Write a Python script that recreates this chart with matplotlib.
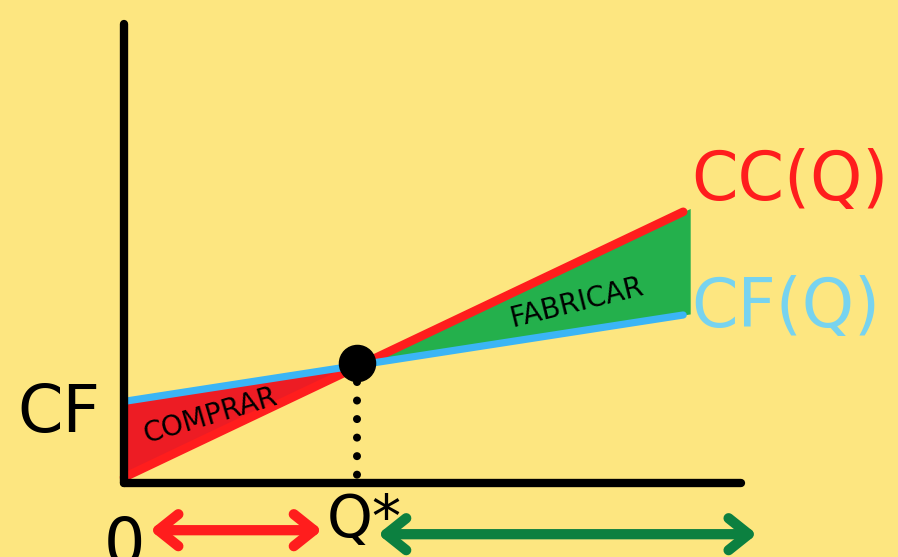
import numpy as np
import matplotlib.pyplot as plt
from matplotlib.patches import FancyArrowPatch, ArrowStyle

# cost lines (Q units, cost units)
q_ends = [0, 12]
cf_ends = [10.2, 21.0]   # CF(Q), fabricar
cc_ends = [0.7, 33.9]    # CC(Q), comprar
q_fill_end = 12.15
q_star = 5.0
cost_star = 15.0
dots_top, dots_bottom = 12.6, 0.9

# colours
bg = "#FDE680"
red_fill = "#ED1C24"
red_line = "#FF1D1D"
green_fill = "#24B04C"
green_arrow = "#0C8040"
blue_line = "#3BB5F5"
blue_text = "#77D3EF"

fig = plt.figure(figsize=(8.98, 5.57), dpi=100)
fig.patch.set_facecolor(bg)
ax = fig.add_axes([0, 0, 1, 1])
ax.set_facecolor(bg)
ax.set_xlim(-124 / 46.6, 774 / 46.6)
ax.set_ylim(-74 / 8, 483 / 8)
ax.axis("off")

cf_fit = np.polyfit(q_ends, cf_ends, 1)
cc_fit = np.polyfit(q_ends, cc_ends, 1)
q_cross = (cf_fit[1] - cc_fit[1]) / (cc_fit[0] - cf_fit[0])

# shaded areas
q_left = np.linspace(0, q_cross, 50)
ax.fill_between(q_left, np.polyval(cc_fit, q_left), np.polyval(cf_fit, q_left),
                color=red_fill, lw=0, zorder=1)
q_right = np.linspace(q_cross, q_fill_end, 50)
ax.fill_between(q_right, np.polyval(cf_fit, q_right), np.polyval(cc_fit, q_right),
                color=green_fill, lw=0, zorder=1)

# cost lines
ax.plot(q_ends, cc_ends, color=red_line, lw=6.2, solid_capstyle="round", zorder=2)
ax.plot(q_ends, cf_ends, color=blue_line, lw=5.2, solid_capstyle="round", zorder=3)

# axes
ax.plot([0, 0], [0, 57.4], color="black", lw=6.0, solid_capstyle="round", zorder=4)
ax.plot([0, 13.24], [0, 0], color="black", lw=6.0, solid_capstyle="round", zorder=4)

# Q* point and dotted guide
ax.plot([q_star, q_star], [dots_top, dots_bottom], color="black", lw=5.8,
        linestyle=(0, (0.001, 2.3)), dash_capstyle="round", zorder=4)
ax.plot([q_star], [cost_star], "o", color="black", markersize=26, zorder=5)

# labels
font = "DejaVu Sans"
ax.text(12.17, 35.4, "CC(Q)", color=red_line, fontsize=48, family=font,
        ha="left", va="baseline")
ax.text(12.17, 19.5, "CF(Q)", color=blue_text, fontsize=48, family=font,
        ha="left", va="baseline")
ax.text(-0.515, 6.375, "CF", color="black", fontsize=47, family=font,
        ha="right", va="baseline")
ax.text(0.0, -10.25, "0", color="black", fontsize=47, family=font,
        ha="center", va="baseline")
ax.text(4.36, -6.75, "Q*", color="black", fontsize=42, family=font,
        ha="left", va="baseline")

ax.text(1.85, 8.4, "COMPRAR", color="black", fontsize=20, family=font,
        rotation=16.5, rotation_mode="anchor", ha="center", va="center", zorder=6)
ax.text(9.72, 22.6, "FABRICAR", color="black", fontsize=20, family=font,
        rotation=14, rotation_mode="anchor", ha="center", va="center", zorder=6)

# range arrows below the axis
style = ArrowStyle("<->", head_length=14.4, head_width=11.5)
for x_a, x_b, y, col in [(0.56, 4.25, -5.9, red_line), (5.45, 13.58, -6.4, green_arrow)]:
    arr = FancyArrowPatch((x_a, y), (x_b, y), arrowstyle=style, mutation_scale=1,
                          shrinkA=0, shrinkB=0, color=col, lw=7.4,
                          capstyle="round", joinstyle="round", zorder=4)
    ax.add_patch(arr)

fig.savefig("out.png", dpi=100, facecolor=bg)
